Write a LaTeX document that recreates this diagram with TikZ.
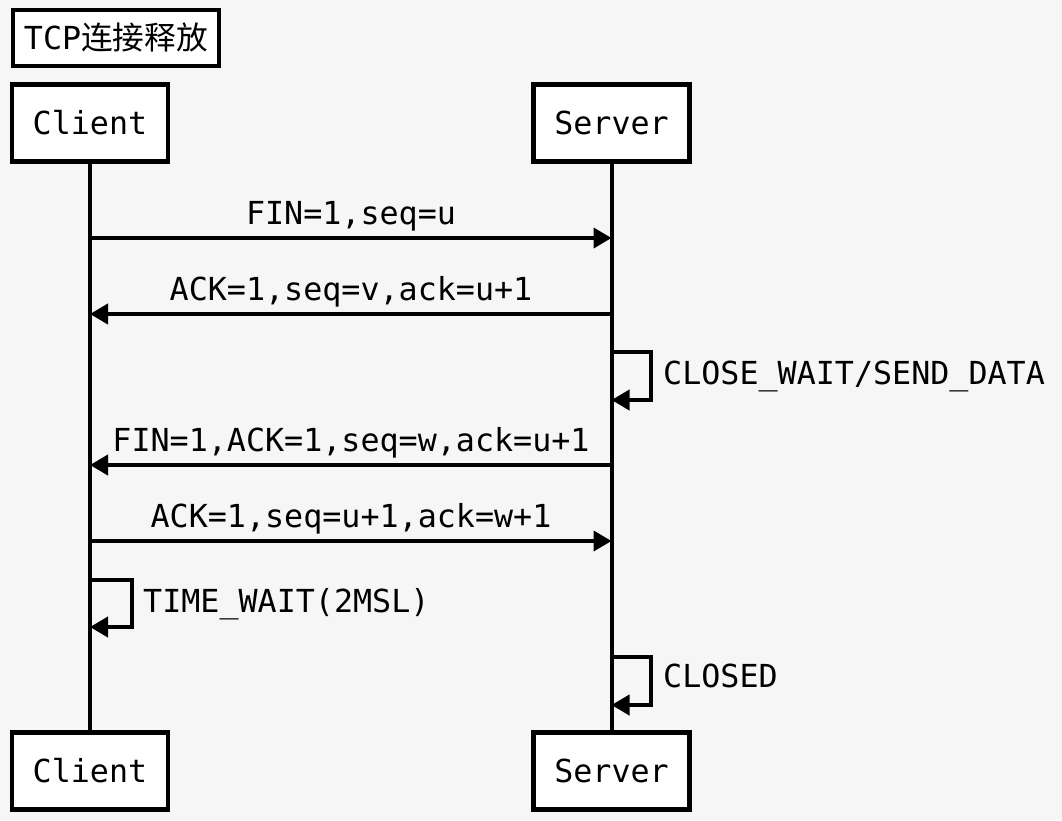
\documentclass[tikz,border=0pt]{standalone}
\usepackage{fontspec}
\setmonofont{DejaVu Sans Mono}
\newfontfamily\cjk{Noto Sans CJK SC}
\usetikzlibrary{arrows.meta}
\begin{document}
\begin{tikzpicture}[x=1pt,y=-1pt,
  every node/.style={font=\fontsize{31.7}{36}\selectfont\ttfamily},
  actor/.style={draw,line width=4.5pt,fill=white,minimum width=156pt,minimum height=77pt,inner sep=0pt},
  lifeline/.style={line width=4pt},
  msg/.style={line width=4pt,-{Triangle[length=18pt,width=20pt]}},
  msglabel/.style={anchor=base,inner sep=0pt},
  looplabel/.style={anchor=base west,inner sep=0pt}]
\useasboundingbox[fill=white!96.5!black] (0,0) rectangle (1062,820);
% title
\node[draw,line width=4pt,fill=white,minimum width=206pt,minimum height=56pt,inner sep=0pt] (title) at (116,37.5) {TCP{\cjk 连接释放}};
% actors
\node[actor] (c1) at (90,123) {Client};
\node[actor] (s1) at (611.5,123) {Server};
\node[actor] (c2) at (90,771) {Client};
\node[actor] (s2) at (611.5,771) {Server};
% lifelines
\draw[lifeline] (c1.south) -- (c2.north);
\draw[lifeline] (s1.south) -- (s2.north);
% message end points
\coordinate (m1c) at (90,238);  \coordinate (m1s) at (611.5,238);
\coordinate (m2c) at (90,314);  \coordinate (m2s) at (611.5,314);
\coordinate (m4c) at (90,465);  \coordinate (m4s) at (611.5,465);
\coordinate (m5c) at (90,541);  \coordinate (m5s) at (611.5,541);
\draw[msg] (m1c) -- (m1s);
\node[msglabel] (l1) at (351,224) {FIN=1,seq=u};
\draw[msg] (m2s) -- (m2c);
\node[msglabel] (l2) at (351,300) {ACK=1,seq=v,ack=u+1};
\draw[msg] (m4s) -- (m4c);
\node[msglabel] (l4) at (351,451) {FIN=1,ACK=1,seq=w,ack=u+1};
\draw[msg] (m5c) -- (m5s);
\node[msglabel] (l5) at (351,527) {ACK=1,seq=u+1,ack=w+1};
% self loops
\coordinate (a1) at (611.5,352); \coordinate (b1) at (611.5,400);
\draw[msg] (a1) -- ++(39,0) |- (b1);
\node[looplabel] (t1) at (663,384) {CLOSE\_WAIT/SEND\_DATA};
\coordinate (a2) at (90,580); \coordinate (b2) at (90,627);
\draw[msg] (a2) -- ++(42,0) |- (b2);
\node[looplabel] (t2) at (143,612) {TIME\_WAIT(2MSL)};
\coordinate (a3) at (611.5,657); \coordinate (b3) at (611.5,705);
\draw[msg] (a3) -- ++(39,0) |- (b3);
\node[looplabel] (t3) at (663,687) {CLOSED};
\end{tikzpicture}
\end{document}
